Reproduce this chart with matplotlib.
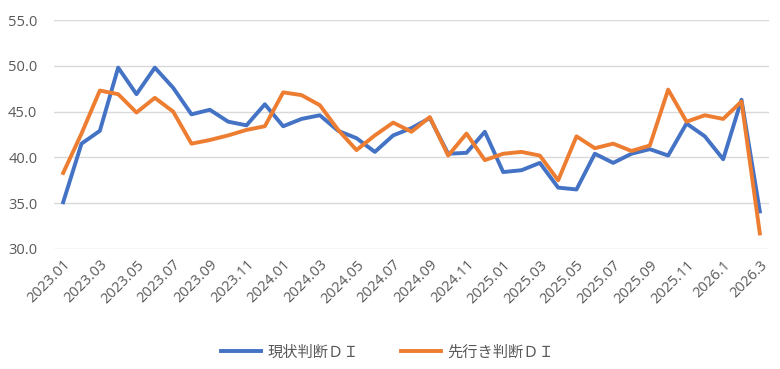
import matplotlib
matplotlib.use("Agg")
import matplotlib.pyplot as plt

plt.rcParams['font.family'] = ['Open Sans', 'Noto Sans CJK JP', 'DejaVu Sans']

# months 2023.01 .. 2026.3
months = []
for y in (2023, 2024, 2025):
    for m in range(1, 13):
        months.append(f"{y}.{m:02d}")
months += ["2026.1", "2026.2", "2026.3"]

current_di = [35.1, 41.5, 42.9, 49.8, 46.9, 49.8, 47.6, 44.7, 45.2, 43.9, 43.5, 45.8,
              43.4, 44.2, 44.6, 42.9, 42.1, 40.6, 42.4, 43.2, 44.3, 40.4, 40.5, 42.8,
              38.4, 38.6, 39.4, 36.7, 36.5, 40.4, 39.4, 40.4, 40.9, 40.2, 43.7, 42.3,
              39.8, 46.3, 34.1]
outlook_di = [38.3, 42.6, 47.3, 46.9, 44.9, 46.5, 45.0, 41.5, 41.9, 42.4, 43.0, 43.4,
              47.1, 46.8, 45.7, 43.0, 40.8, 42.4, 43.8, 42.8, 44.4, 40.2, 42.6, 39.7,
              40.4, 40.6, 40.2, 37.5, 42.3, 41.0, 41.5, 40.7, 41.3, 47.4, 43.9, 44.6,
              44.2, 46.1, 31.7]
series_names = ["現状判断ＤＩ", "先行き判断ＤＩ"]

fig = plt.figure(figsize=(7.8, 3.69), dpi=100)
ax = fig.add_axes([54 / 780, 1 - 249 / 369, (769 - 54) / 780, (249 - 20) / 369])

x = list(range(len(months)))
ax.plot(x, current_di, color="#4472C4", lw=2.8, label=series_names[0], solid_joinstyle="round")
ax.plot(x, outlook_di, color="#ED7D31", lw=2.8, label=series_names[1], solid_joinstyle="round")

ax.set_xlim(-0.5, len(months) - 0.5)
ax.set_ylim(30, 55)
ax.set_yticks([30, 35, 40, 45, 50, 55])
ax.set_yticklabels([f"{v:.1f}" for v in [30, 35, 40, 45, 50, 55]])
ax.set_xticks(x[::2])
ax.set_xticklabels(months[::2], rotation=45, ha="right", rotation_mode="anchor")
ax.grid(axis="y", color="#d9d9d9", lw=1)
ax.set_axisbelow(True)
for s in ax.spines.values():
    s.set_visible(False)
ax.tick_params(axis="both", length=0, colors="#595959", labelsize=10.5)
ax.tick_params(axis="y", pad=12)
ax.tick_params(axis="x", pad=6)

fig.legend(loc="lower center", bbox_to_anchor=(0.497, -0.015), ncol=2, frameon=False,
           fontsize=11, labelcolor="#595959", handlelength=2.6, columnspacing=2.8,
           handletextpad=0.4)

fig.savefig("out.png", dpi=100)
